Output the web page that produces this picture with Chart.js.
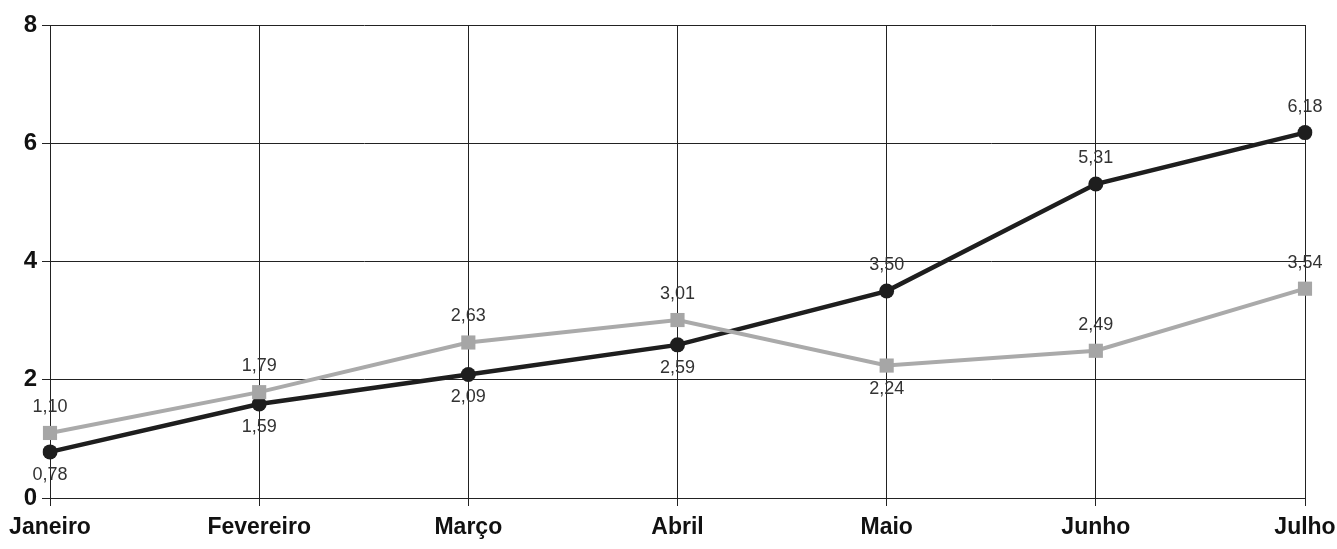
<!DOCTYPE html>
<html><head><meta charset="utf-8">
<script src="https://cdn.jsdelivr.net/npm/chart.js@4/dist/chart.umd.min.js"></script>
<style>html,body{margin:0;padding:0;background:#fff}#wrap{width:1337px;height:549px}</style>
</head><body><div id="wrap"><canvas id="c" width="1337" height="549"></canvas></div>
<script>
const categories = ["Janeiro","Fevereiro","Março","Abril","Maio","Junho","Julho"];
const seriesDark = [0.78,1.59,2.09,2.59,3.50,5.31,6.18];
const seriesGray = [1.10,1.79,2.63,3.01,2.24,2.49,3.54];
const darkLabelPos = ["below","below","below","below","above","above","above"];
const grayLabelPos = ["above","above","above","above","below","above","above"];
const yTicks = [0,2,4,6,8];

const labelPlugin = {
  id: 'valLabels',
  afterDatasetsDraw(chart) {
    const ctx = chart.ctx;
    ctx.save();
    ctx.font = '18px "Liberation Sans", Arial, sans-serif';
    ctx.fillStyle = '#333';
    ctx.textAlign = 'center';
    ctx.textBaseline = 'middle';
    chart.data.datasets.forEach((ds, i) => {
      const meta = chart.getDatasetMeta(i);
      meta.data.forEach((pt, j) => {
        const pos = ds.labelPos[j];
        const txt = ds.data[j].toFixed(2).replace('.', ',');
        const dy = pos === 'above' ? -26 : 23;
        ctx.fillText(txt, pt.x, pt.y + dy);
      });
    });
    ctx.restore();
  }
};

new Chart(document.getElementById('c'), {
  type: 'line',
  data: {
    labels: categories,
    datasets: [
      {label: 'B', data: seriesGray, labelPos: grayLabelPos, borderColor: '#aaaaaa', backgroundColor: '#a6a6a6', borderWidth: 4, pointStyle: 'rect', pointRadius: 10, pointBorderWidth: 0, tension: 0},
      {label: 'A', data: seriesDark, labelPos: darkLabelPos, borderColor: '#1e1e1e', backgroundColor: '#1e1e1e', borderWidth: 4.5, pointStyle: 'circle', pointRadius: 7.5, pointBorderWidth: 0, tension: 0}
    ]
  },
  options: {
    responsive: false,
    animation: false,
    layout: {padding: {top: 25, right: 0, left: 0, bottom: 0}},
    plugins: {legend: {display: false}, tooltip: {enabled: false}},
    scales: {
      x: {
        offset: false,
        grid: {color: '#222', lineWidth: 1, tickLength: 8, drawTicks: true},
        border: {color: '#222', width: 1},
        ticks: {color: '#111', font: {family: '"Liberation Sans", Arial, sans-serif', size: 23, weight: 'bold'}, padding: 8, maxRotation: 0, autoSkip: false},
        afterFit(s) { s.height = 51; s.paddingLeft = 0; s.paddingRight = 32; }
      },
      y: {
        min: 0, max: 8,
        afterBuildTicks(s) { s.ticks = yTicks.map(v => ({value: v})); },
        grid: {color: '#222', lineWidth: 1, tickLength: 8, drawTicks: true},
        border: {color: '#222', width: 1},
        ticks: {color: '#111', font: {family: '"Liberation Sans", Arial, sans-serif', size: 24, weight: 'bold'}, padding: 5},
        afterFit(s) { s.width = 50; }
      }
    }
  },
  plugins: [labelPlugin]
});
</script></body></html>
